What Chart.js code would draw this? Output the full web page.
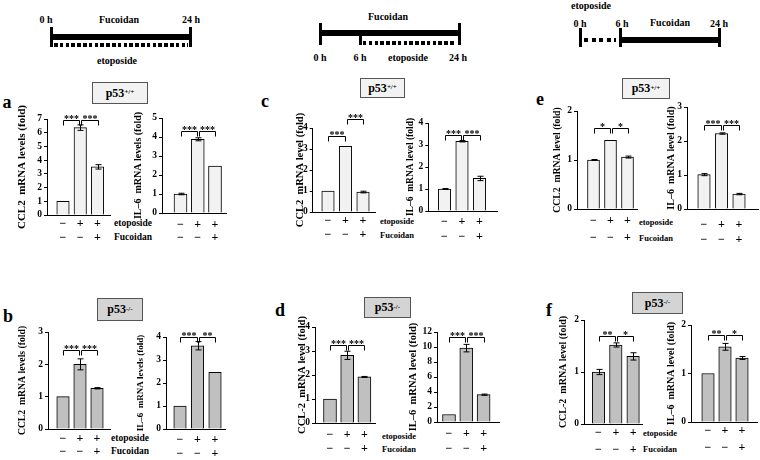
<!DOCTYPE html>
<html lang="en">
<head>
<meta charset="UTF-8">
<title>Fucoidan / etoposide: CCL2 and IL-6 mRNA</title>
<script src="https://cdn.jsdelivr.net/npm/chart.js"></script>
<style>
  body { margin: 0; background: #fff; }
  #fig { position: relative; width: 760px; height: 460px; overflow: hidden; background: #fff;
         font-family: "Liberation Serif", "Times New Roman", "DejaVu Serif", serif; font-weight: bold; color: #000; }
  #fig canvas { position: absolute; }
  .t { position: absolute; transform: translate(-50%, -50%); white-space: nowrap; line-height: 1; }
  .l { position: absolute; transform: translateY(-50%); white-space: nowrap; line-height: 1; }
  .bar { position: absolute; background: #000; }
  .dots { position: absolute; }
  .box { position: absolute; box-sizing: border-box; border: 1px solid #555; display: flex;
         align-items: center; justify-content: center; font-size: 12px; }
  .box sup { font-size: 7px; position: relative; top: -1px; }
</style>
</head>
<body>
<div id="fig"></div>
<script>
const FONT = '"Liberation Serif", "Times New Roman", "DejaVu Serif", serif';

// rows under each chart: etoposide / Fucoidan
const xTicks = [['−', '−'], ['+', '−'], ['+', '+']];

// a: Fucoidan + etoposide 0-24 h, p53+/+
const ccl2A = [1, 6.37, 3.51];
const ccl2AErr = [0, 0.2, 0.16];
const ccl2ASig = [[0, 1, '***', 6.9], [1, 2, '***', 6.9]];
const il6A = [1, 3.88, 2.47];
const il6AErr = [0.04, 0.08, 0];
const il6ASig = [[0, 1, '***', 4.32], [1, 2, '***', 4.32]];

// b: same, p53-/-
const ccl2B = [1, 2.0, 1.26];
const ccl2BErr = [0, 0.17, 0.02];
const ccl2BSig = [[0, 1, '***', 2.45], [1, 2, '***', 2.45]];
const il6B = [1, 3.62, 2.46];
const il6BErr = [0, 0.18, 0];
const il6BSig = [[0, 1, '***', 4.0], [1, 2, '**', 4.0]];

// c: Fucoidan first, etoposide from 6 h, p53+/+
const ccl2C = [1, 3.13, 0.95];
const ccl2CErr = [0, 0, 0.04];
const ccl2CSig = [[0, 1, '***', 3.6], [1, 2, '***', 4.44]];
const il6C = [1, 3.17, 1.48];
const il6CErr = [0.02, 0.03, 0.1];
const il6CSig = [[0, 1, '***', 3.44], [1, 2, '***', 3.44]];

// d: same, p53-/-
const ccl2D = [1, 2.82, 1.92];
const ccl2DErr = [0, 0.17, 0.02];
const ccl2DSig = [[0, 1, '***', 3.26], [1, 2, '***', 3.26]];
const il6D = [1, 9.85, 3.64];
const il6DErr = [0, 0.5, 0.08];
const il6DSig = [[0, 1, '***', 11.33], [1, 2, '***', 11.33]];

// e: etoposide first, Fucoidan from 6 h, p53+/+
const ccl2E = [1, 1.4, 1.06];
const ccl2EErr = [0.01, 0, 0.02];
const ccl2ESig = [[0, 1, '*', 1.65], [1, 2, '*', 1.65]];
const il6E = [1.01, 2.22, 0.44];
const il6EErr = [0.03, 0.02, 0.02];
const il6ESig = [[0, 1, '***', 2.48], [1, 2, '***', 2.48]];

// f: same, p53-/-
const ccl2F = [1, 1.52, 1.3];
const ccl2FErr = [0.05, 0.04, 0.07];
const ccl2FSig = [[0, 1, '**', 1.7], [1, 2, '*', 1.7]];
const il6F = [1, 1.55, 1.32];
const il6FErr = [0, 0.07, 0.03];
const il6FSig = [[0, 1, '**', 1.8], [1, 2, '*', 1.8]];

const LIGHT = '#f2f2f2', DARK = '#c0c0c0';

const fig = document.getElementById('fig');

function put(cls, html, x, y, style) {
    const d = document.createElement('div');
    d.className = cls;
    d.innerHTML = html;
    d.style.left = x + 'px';
    d.style.top = y + 'px';
    if (style) Object.assign(d.style, style);
    fig.appendChild(d);
    return d;
}
function hbar(x1, x2, y, th) { put('bar', '', x1, y - th / 2, { width: (x2 - x1) + 'px', height: th + 'px' }); }
function vbar(x, y1, y2, th) { put('bar', '', x - th / 2, y1, { width: th + 'px', height: (y2 - y1) + 'px' }); }
function dots(x1, x2, y, on, period) {
    put('dots', '', x1, y - 2, { width: (x2 - x1) + 'px', height: '4px',
        background: `repeating-linear-gradient(90deg, #000 0 ${on}px, transparent ${on}px ${period}px)` });
}

// timelines
put('t', '0 h', 46, 20, { fontSize: '10px' });
put('t', 'Fucoidan', 119, 20, { fontSize: '10px' });
put('t', '24 h', 191, 20, { fontSize: '10px' });
vbar(51, 27, 47, 3); vbar(190, 27, 47, 3);
hbar(51, 190, 36.5, 6);
dots(54, 188, 45, 3.5, 5.8);
put('t', 'etoposide', 117, 61, { fontSize: '10px' });

put('t', 'Fucoidan', 388, 17, { fontSize: '10px' });
vbar(320, 23, 45, 3); vbar(459, 23, 45, 3);
hbar(320, 459, 33, 6);
vbar(360, 35, 45, 3);
dots(363, 456, 43, 3.5, 5.8);
put('t', '0 h', 320, 58, { fontSize: '10px' });
put('t', '6 h', 360, 58, { fontSize: '10px' });
put('t', 'etoposide', 408, 58, { fontSize: '10px' });
put('t', '24 h', 458, 58, { fontSize: '10px' });

put('t', 'etoposide', 591, 6, { fontSize: '10px' });
put('t', '0 h', 580, 24, { fontSize: '10px' });
put('t', '6 h', 622, 24, { fontSize: '10px' });
put('t', 'Fucoidan', 670, 23, { fontSize: '10px' });
put('t', '24 h', 719, 24, { fontSize: '10px' });
vbar(580, 28, 47, 3); vbar(620, 28, 47, 3); vbar(719, 28, 47, 3);
dots(584, 616, 39.5, 4, 7.5);
hbar(620, 719, 39.5, 6);

// panel letters and genotype boxes
[['a', 7, 102], ['b', 8, 316], ['c', 265, 101], ['d', 280, 310], ['e', 540, 99], ['f', 549, 310]]
    .forEach(([s, x, y]) => put('t', s, x, y, { fontSize: '18px' }));
[[92, 82, 56, 22, 'p53 <sup>+/+</sup>', LIGHT], [97, 298, 46, 23, 'p53<sup>-/-</sup>', '#d4d4d4'],
 [360, 78, 45, 20, 'p53<sup>+/+</sup>', LIGHT], [364, 297, 47, 21, 'p53<sup>-/-</sup>', '#d4d4d4'],
 [622, 78, 48, 21, 'p53<sup>+/+</sup>', LIGHT], [632, 292, 51, 22, 'p53<sup>-/-</sup>', '#d4d4d4']]
    .forEach(([x, y, w, h, s, bg]) => put('box', s, x, y, { width: w + 'px', height: h + 'px', background: bg }));

// treatment row names
[[114, 224, 237.5, 9.5], [111, 439, 452, 9.5], [380, 221, 234.5, 8.5],
 [382, 435.5, 449, 8.5], [639, 221.5, 238, 8.5], [643, 432.7, 449.3, 8.5]]
    .forEach(([x, y1, y2, fs]) => {
        put('l', 'etoposide', x, y1, { fontSize: fs + 'px' });
        put('l', 'Fucoidan', x, y2, { fontSize: fs + 'px' });
    });

const charts = [
    { vals: ccl2A, errs: ccl2AErr, sig: ccl2ASig, ymax: 7, step: 1, title: 'CCL2  mRNA levels (fold)', fill: LIGHT, ts: 11,
      axis: 47, top: 118.7, bot: 215, c0: 63, sp: 17.25, bw: 12.5, end: 110, titleX: 23, pad: 2.3, gap: 13.5 },
    { vals: il6A, errs: il6AErr, sig: il6ASig, ymax: 5, step: 1, title: 'IL–6  mRNA levels (fold)', fill: LIGHT, ts: 10,
      axis: 162, top: 117.7, bot: 212.7, c0: 180.5, sp: 17.25, bw: 13, end: 226, titleX: 138, pad: 4.9, gap: 13.5 },
    { vals: ccl2B, errs: ccl2BErr, sig: ccl2BSig, ymax: 3, step: 1, title: 'CCL2  mRNA levels (fold)', fill: DARK, ts: 9.7,
      axis: 48, top: 332.3, bot: 429, c0: 63, sp: 17, bw: 12.5, end: 110, titleX: 23, pad: 3.5, gap: 13 },
    { vals: il6B, errs: il6BErr, sig: il6BSig, ymax: 4, step: 1, title: 'IL–6  mRNA levels (fold)', fill: DARK, ts: 9,
      axis: 166, top: 336.7, bot: 429, c0: 180, sp: 17.5, bw: 12.5, end: 225, titleX: 140, pad: 4, gap: 14 },
    { vals: ccl2C, errs: ccl2CErr, sig: ccl2CSig, ymax: 4, step: 1, title: 'CCL2  mRNA level (fold)', fill: LIGHT, ts: 10.5,
      axis: 312.7, top: 127.7, bot: 211.7, c0: 328, sp: 17.5, bw: 12.5, end: 375, titleX: 300, pad: 2.5, gap: 13.5 },
    { vals: il6C, errs: il6CErr, sig: il6CSig, ymax: 4, step: 1, title: 'IL–6  mRNA level (fold)', fill: LIGHT, ts: 9.5,
      axis: 428.3, top: 122.7, bot: 211, c0: 444.5, sp: 17.5, bw: 12.5, end: 497, titleX: 411, pad: 3.2, gap: 15 },
    { vals: ccl2D, errs: ccl2DErr, sig: ccl2DSig, ymax: 4, step: 1, title: 'CCL-2  mRNA level (fold)', fill: DARK, ts: 10.5,
      axis: 315, top: 327.3, bot: 423.3, c0: 330, sp: 17.2, bw: 13, end: 375, titleX: 302, pad: 4.7, gap: 14 },
    { vals: il6D, errs: il6DErr, sig: il6DSig, ymax: 12, step: 2, title: 'IL–6  mRNA level (fold)', fill: DARK, ts: 10.5,
      axis: 437, top: 331.7, bot: 421.7, c0: 449, sp: 17.3, bw: 13, end: 499, titleX: 413, pad: 4.1, gap: 15 },
    { vals: ccl2E, errs: ccl2EErr, sig: ccl2ESig, ymax: 2, step: 1, title: 'CCL2  mRNA level (fold)', fill: LIGHT, ts: 9.7,
      axis: 577, top: 111, bot: 209.3, c0: 593.5, sp: 17, bw: 12, end: 637, titleX: 558, pad: 4, gap: 16.5 },
    { vals: il6E, errs: il6EErr, sig: il6ESig, ymax: 3, step: 1, title: 'IL–6  mRNA level (fold)', fill: LIGHT, ts: 10,
      axis: 687, top: 107.3, bot: 209.3, c0: 704, sp: 17.5, bw: 12.5, end: 758, titleX: 671, pad: 8.2, gap: 15 },
    { vals: ccl2F, errs: ccl2FErr, sig: ccl2FSig, ymax: 2, step: 1, title: 'CCL-2  mRNA level (fold)', fill: DARK, ts: 10,
      axis: 584, top: 319.5, bot: 423.5, c0: 598.5, sp: 17.3, bw: 12.5, end: 642, titleX: 563, pad: 0, gap: 17.5 },
    { vals: il6F, errs: il6FErr, sig: il6FSig, ymax: 2, step: 1, title: 'IL–6  mRNA level (fold)', fill: DARK, ts: 10,
      axis: 691, top: 324.5, bot: 422.3, c0: 708, sp: 17, bw: 12.5, end: 757, titleX: 671, pad: 1.1, gap: 16.6 }
];

// error bars and significance brackets, placed with the chart's own scales
function marksFor(c) {
    return {
        id: 'marks',
        afterDatasetsDraw(chart) {
            const ctx = chart.ctx, y = chart.scales.y;
            const bars = chart.getDatasetMeta(0).data;
            ctx.save();
            ctx.strokeStyle = '#000';
            ctx.lineWidth = 1;
            c.errs.forEach((e, i) => {
                if (!e) return;
                const x = Math.round(bars[i].x) + 0.5;
                const y1 = y.getPixelForValue(c.vals[i] + e), y2 = y.getPixelForValue(c.vals[i] - e);
                ctx.beginPath();
                ctx.moveTo(x, y1); ctx.lineTo(x, y2);
                ctx.moveTo(x - 3, y1); ctx.lineTo(x + 3, y1);
                ctx.moveTo(x - 3, y2); ctx.lineTo(x + 3, y2);
                ctx.stroke();
            });
            ctx.fillStyle = '#000';
            ctx.font = 'bold 10px ' + FONT;
            ctx.textAlign = 'center';
            ctx.textBaseline = 'alphabetic';
            c.sig.forEach(([i, j, label, h], k) => {
                const yy = Math.round(y.getPixelForValue(h)) + 0.5;
                const x1 = Math.round(bars[i].x) + (k ? 1.5 : 0.5);
                const x2 = Math.round(bars[j].x) + (k ? 0.5 : -0.5);
                ctx.beginPath();
                ctx.moveTo(x1, yy + 5); ctx.lineTo(x1, yy); ctx.lineTo(x2, yy); ctx.lineTo(x2, yy + 5);
                ctx.stroke();
                ctx.fillText(label, (x1 + x2) / 2, yy + 1);
            });
            ctx.restore();
        }
    };
}

function drawChart(c) {
    const padTop = 30, bottomH = 36;
    const left = Math.round(c.titleX - 2 - c.ts * 0.6);
    const top = Math.round(c.top), bot = Math.round(c.bot);
    const leftW = c.axis - left;
    const cv = document.createElement('canvas');
    cv.width = Math.round(c.end - left + 6);
    cv.height = padTop + (bot - top) + bottomH;
    cv.style.left = left + 'px';
    cv.style.top = (top - padTop) + 'px';
    fig.appendChild(cv);

    new Chart(cv, {
        type: 'bar',
        data: {
            datasets: [{
                data: c.vals.map((v, i) => ({ x: i, y: v })),
                backgroundColor: c.fill,
                borderColor: '#000',
                borderWidth: 1,
                barThickness: c.bw
            }]
        },
        options: {
            responsive: false,
            animation: false,
            events: [],
            layout: { padding: { top: padTop, right: cv.width - (c.end - left), left: 0, bottom: 0 } },
            plugins: { legend: { display: false }, tooltip: { enabled: false } },
            scales: {
                x: {
                    type: 'linear',
                    offset: false,
                    min: (c.axis - c.c0) / c.sp,
                    max: (c.end - c.c0) / c.sp,
                    grid: { display: false, drawTicks: false },
                    border: { color: '#000', width: 1 },
                    afterBuildTicks: s => { s.ticks = [0, 1, 2].map(v => ({ value: v })); },
                    afterFit: s => { s.height = bottomH; },
                    ticks: {
                        autoSkip: false, maxRotation: 0, minRotation: 0,
                        padding: c.pad, color: '#000',
                        font: { family: FONT, size: 12, weight: 'bold', lineHeight: c.gap + 'px' },
                        callback: v => xTicks[v]
                    }
                },
                y: {
                    min: 0,
                    max: c.ymax,
                    afterFit: s => { s.width = leftW; },
                    grid: { drawOnChartArea: false, tickLength: 3, color: '#000' },
                    border: { color: '#000', width: 1 },
                    ticks: { stepSize: c.step, autoSkip: false, padding: 2, color: '#000',
                             font: { family: FONT, size: 9.5, weight: 'bold' } },
                    title: {
                        display: true, text: c.title, color: '#000',
                        padding: { top: 2, bottom: 0 },
                        font: { family: FONT, size: c.ts, weight: 'bold' }
                    }
                }
            }
        },
        plugins: [marksFor(c)]
    });
}

charts.forEach(drawChart);
</script>
</body>
</html>
